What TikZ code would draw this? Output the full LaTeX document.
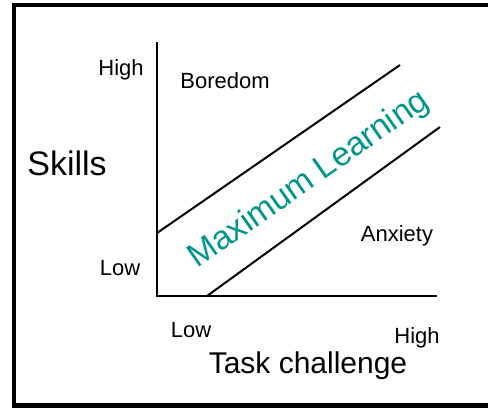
\documentclass[tikz,border=0pt]{standalone}
\usepackage{fontspec}
\setmainfont{Liberation Sans}
\definecolor{learngreen}{RGB}{0,150,140}
\tikzset{
  smalltext/.style={anchor=base, inner sep=0pt, font=\fontsize{22}{26}\selectfont},
  axistext/.style={anchor=base, inner sep=0pt, font=\fontsize{34}{40}\selectfont},
  band/.style={line width=2pt}
}
\begin{document}
\begin{tikzpicture}[x=1pt,y=-1pt]
\useasboundingbox (0,0) rectangle (492,408);
\draw[line width=4.5pt] (488,5) -- (14,5) -- (14,405.5) -- (488,405.5);

\coordinate (top) at (157,42);
\coordinate (origin) at (157,296);
\coordinate (right) at (437,296);
\coordinate (upA) at (157,233);
\coordinate (upB) at (400,65);
\coordinate (lowA) at (207,296);
\coordinate (lowB) at (440,127);

\draw[line width=2.4pt] (top) -- (origin) -- (right);
\draw[band] (upA) -- (upB);
\draw[band] (lowA) -- (lowB);

\node[smalltext] (yhigh) at (121,75) {High};
\node[smalltext] (ylow) at (120,275) {Low};
\node[smalltext] (xlow) at (191,337) {Low};
\node[smalltext] (xhigh) at (417,343) {High};
\node[smalltext] (boredom) at (225,88) {Boredom};
\node[smalltext] (anxiety) at (397,241.5) {Anxiety};
\node[axistext] (skills) at (67,175) {Skills};
\node[axistext, font=\fontsize{30}{36}\selectfont] (task) at (308,373) {Task challenge};
\node[rotate=35, text=learngreen, font=\fontsize{33.5}{40}\selectfont] (maxlearn) at (309,180) {Maximum Learning};
\end{tikzpicture}
\end{document}
